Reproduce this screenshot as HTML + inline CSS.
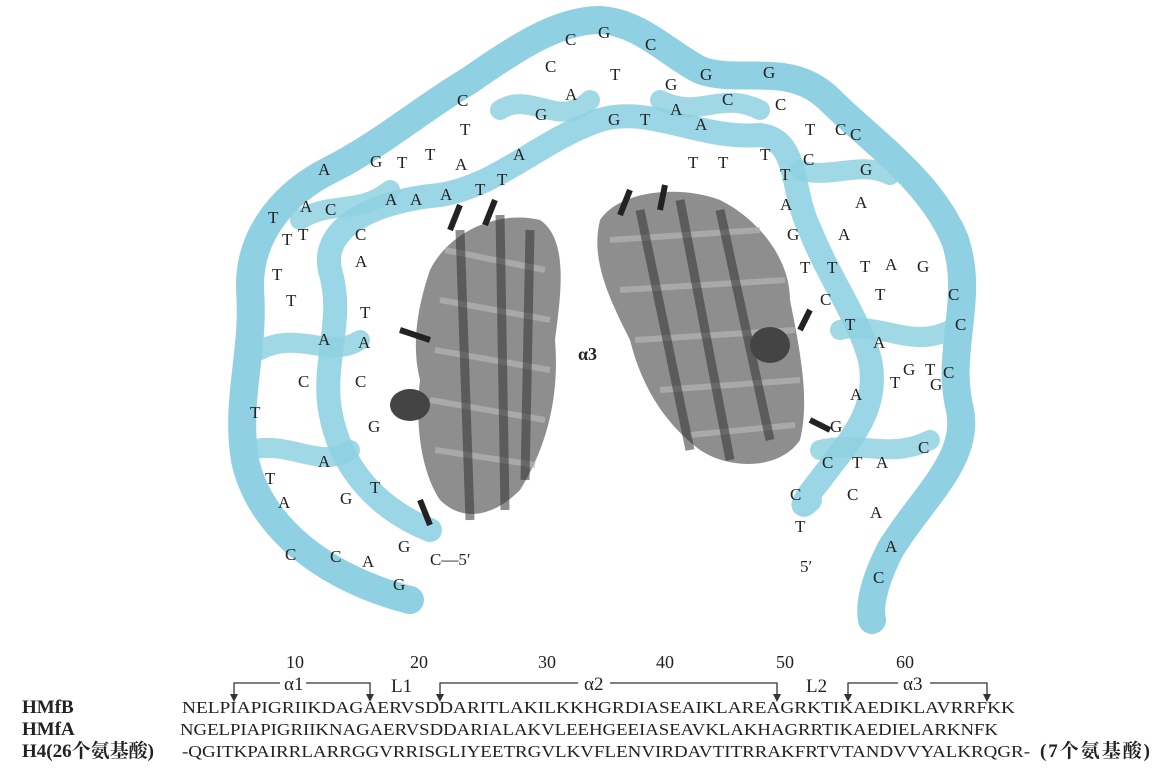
<!DOCTYPE html>
<html><head><meta charset="utf-8"><style>
html,body{margin:0;padding:0;background:#fff}
svg{display:block}
.s{font-family:"Liberation Serif","Noto Serif CJK SC",serif;fill:#222}
.b{font-family:"Liberation Serif","Noto Serif CJK SC",serif;fill:#222;font-size:19px}
</style></head><body>
<svg width="1163" height="782" viewBox="0 0 1163 782">
<g fill="none" stroke="#8fd1e2" stroke-linecap="round" stroke-linejoin="round">
<path stroke-width="28" d="M410,600 C330,580 260,530 245,460 C235,400 255,350 250,290 C248,230 290,190 330,170 C380,145 420,110 470,80 C520,45 560,20 600,20 C640,22 670,55 700,70 C740,85 790,60 830,100 C870,140 930,180 955,240 C975,300 945,350 960,410 C970,460 920,500 890,550 C870,590 870,610 872,620"/>
<path stroke-width="24" opacity="0.9" d="M430,530 C380,510 340,470 330,410 C322,360 345,320 330,270 C320,225 380,200 440,195 C500,185 540,140 600,120 C650,105 700,140 760,135 C800,140 790,190 810,230 C830,280 860,320 870,360 C880,410 850,440 820,480 C800,505 800,510 810,500"/>
<path stroke-width="20" opacity="0.85" d="M300,220 C330,200 360,215 390,190 M260,350 C300,330 330,360 360,340 M250,450 C290,440 320,470 350,450 M800,170 C830,180 860,160 890,175 M840,330 C880,320 910,350 950,330 M820,450 C860,440 890,460 930,440 M500,110 C530,90 560,130 590,100 M660,100 C700,120 720,90 760,110"/>
</g>
<g>
<path d="M430,270 C450,230 500,210 540,220 C570,240 560,300 555,340 C560,400 545,450 520,490 C490,520 460,520 440,500 C420,470 415,420 420,380 C410,340 420,300 430,270Z" fill="#7a7a7a" opacity="0.85"/>
<path d="M445,250 L545,270 M440,300 L550,320 M435,350 L550,370 M430,400 L545,420 M435,450 L535,465" stroke="#b5b5b5" stroke-width="6" opacity="0.7"/>
<path d="M460,230 L470,520 M500,215 L505,510 M530,230 L525,480" stroke="#333" stroke-width="9" opacity="0.55"/>
<ellipse cx="410" cy="405" rx="20" ry="16" fill="#444"/>
<path d="M450,230 L460,205 M485,225 L495,200 M400,330 L430,340 M420,500 L430,525" stroke="#222" stroke-width="6"/>
</g>
<g>
<path d="M600,220 C620,190 680,185 720,200 C760,220 790,260 790,300 C800,350 810,400 800,440 C780,470 730,470 700,450 C660,420 640,380 630,340 C610,300 590,260 600,220Z" fill="#7a7a7a" opacity="0.85"/>
<path d="M610,240 L760,230 M620,290 L785,280 M635,340 L795,330 M660,390 L800,380 M690,435 L795,425" stroke="#b5b5b5" stroke-width="6" opacity="0.7"/>
<path d="M640,210 L690,450 M680,200 L730,460 M720,210 L770,440" stroke="#333" stroke-width="9" opacity="0.55"/>
<ellipse cx="770" cy="345" rx="20" ry="18" fill="#444"/>
<path d="M630,190 L620,215 M665,185 L660,210 M810,420 L830,430 M800,330 L810,310" stroke="#222" stroke-width="6"/>
</g>
<text class="s" x="578" y="360" font-size="18" font-weight="bold">α3</text>
<g class="s" font-size="17">
<text x="565" y="45">C</text><text x="598" y="38">G</text><text x="645" y="50">C</text>
<text x="545" y="72">C</text><text x="610" y="80">T</text><text x="665" y="90">G</text><text x="700" y="80">G</text><text x="763" y="78">G</text>
<text x="457" y="106">C</text><text x="565" y="100">A</text><text x="535" y="120">G</text><text x="722" y="105">C</text><text x="775" y="110">C</text>
<text x="460" y="135">T</text><text x="608" y="125">G</text><text x="640" y="125">T</text><text x="670" y="115">A</text><text x="695" y="130">A</text><text x="805" y="135">T</text><text x="835" y="135">C</text>
<text x="318" y="175">A</text><text x="370" y="167">G</text><text x="397" y="168">T</text><text x="425" y="160">T</text><text x="455" y="170">A</text><text x="513" y="160">A</text><text x="688" y="168">T</text><text x="718" y="168">T</text><text x="760" y="160">T</text><text x="803" y="165">C</text><text x="850" y="140">C</text>
<text x="300" y="212">A</text><text x="440" y="200">A</text><text x="475" y="195">T</text><text x="497" y="185">T</text><text x="780" y="180">T</text><text x="860" y="175">G</text>
<text x="268" y="223">T</text><text x="325" y="215">C</text><text x="385" y="205">A</text><text x="410" y="205">A</text><text x="780" y="210">A</text><text x="855" y="208">A</text>
<text x="282" y="245">T</text><text x="298" y="240">T</text><text x="355" y="240">C</text><text x="787" y="240">G</text><text x="838" y="240">A</text>
<text x="272" y="280">T</text><text x="355" y="267">A</text><text x="800" y="273">T</text><text x="827" y="273">T</text><text x="860" y="272">T</text><text x="885" y="270">A</text><text x="917" y="272">G</text>
<text x="286" y="306">T</text><text x="360" y="318">T</text><text x="820" y="305">C</text><text x="875" y="300">T</text><text x="948" y="300">C</text>
<text x="318" y="345">A</text><text x="358" y="348">A</text><text x="845" y="330">T</text><text x="873" y="348">A</text><text x="955" y="330">C</text>
<text x="298" y="387">C</text><text x="355" y="387">C</text><text x="903" y="375">G</text><text x="925" y="375">T</text><text x="943" y="378">C</text>
<text x="250" y="418">T</text><text x="368" y="432">G</text><text x="850" y="400">A</text><text x="890" y="388">T</text><text x="930" y="390">G</text>
<text x="318" y="467">A</text><text x="830" y="432">G</text><text x="852" y="468">T</text><text x="876" y="468">A</text><text x="918" y="453">C</text>
<text x="265" y="484">T</text><text x="278" y="508">A</text><text x="370" y="493">T</text><text x="340" y="504">G</text><text x="822" y="468">C</text>
<text x="790" y="500">C</text><text x="847" y="500">C</text><text x="870" y="518">A</text><text x="795" y="532">T</text>
<text x="285" y="560">C</text><text x="330" y="562">C</text><text x="362" y="567">A</text><text x="398" y="552">G</text><text x="430" y="565">C—5′</text><text x="885" y="552">A</text>
<text x="393" y="590">G</text><text x="800" y="572">5′</text><text x="873" y="583">C</text>
</g>
<g>
<g class="s" font-size="18">
<text x="286" y="668">10</text><text x="410" y="668">20</text><text x="538" y="668">30</text><text x="656" y="668">40</text><text x="776" y="668">50</text><text x="896" y="668">60</text>
</g>
<g class="s" font-size="19">
<text x="284" y="690">α1</text><text x="391" y="692">L1</text><text x="584" y="690">α2</text><text x="806" y="692">L2</text><text x="903" y="690">α3</text>
</g>
<g stroke="#333" stroke-width="1.3" fill="none">
<path d="M234,697 V683 H280 M306,683 H370 V697"/>
<path d="M440,697 V683 H578 M610,683 H777 V697"/>
<path d="M848,697 V683 H898 M930,683 H987 V697"/>
</g>
<g fill="#333">
<path d="M230,694 L238,694 L234,702Z M366,694 L374,694 L370,702Z M436,694 L444,694 L440,702Z M773,694 L781,694 L777,702Z M844,694 L852,694 L848,702Z M983,694 L991,694 L987,702Z"/>
</g>
<text class="b" x="22" y="713" font-weight="bold">HMfB</text>
<text class="b" x="22" y="735" font-weight="bold">HMfA</text>
<text class="b" x="22" y="757" font-weight="bold">H4(26个氨基酸)</text>
<text class="s" font-size="17" x="182" y="713" textLength="833" lengthAdjust="spacingAndGlyphs">NELPIAPIGRIIKDAGAERVSDDARITLAKILKKHGRDIASEAIKLAREAGRKTIKAEDIKLAVRRFKK</text>
<text class="s" font-size="17" x="180" y="735" textLength="818" lengthAdjust="spacingAndGlyphs">NGELPIAPIGRIIKNAGAERVSDDARIALAKVLEEHGEEIASEAVKLAKHAGRRTIKAEDIELARKNFK</text>
<text class="s" font-size="17" x="182" y="757" textLength="848" lengthAdjust="spacingAndGlyphs">-QGITKPAIRRLARRGGVRRISGLIYEETRGVLKVFLENVIRDAVTITRRAKFRTVTANDVVYALKRQGR-</text>
<text class="b" x="1040" y="757" font-weight="bold" textLength="110">(7个氨基酸)</text>
</g>
</svg>
</body></html>
